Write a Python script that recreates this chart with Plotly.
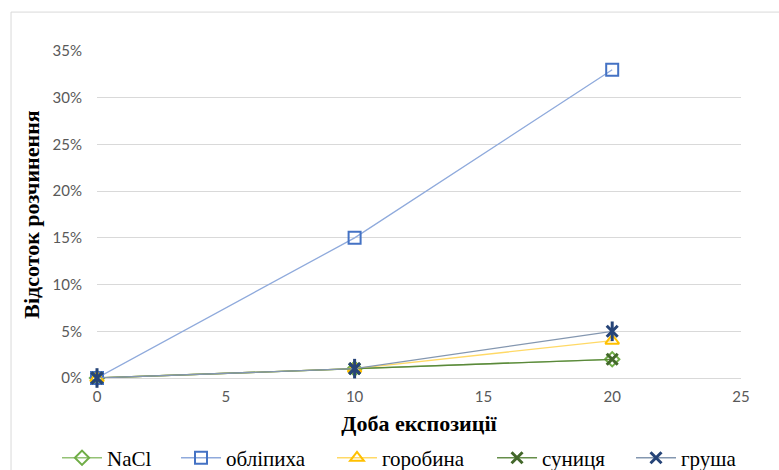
import plotly.graph_objects as go

# Exposure days and dissolution share (fraction) for each sample
days = [0, 10, 20]
series_names = ["NaCl", "обліпиха", "горобина", "суниця", "груша"]
nacl = [0.0, 0.01, 0.02]
oblipykha = [0.0, 0.15, 0.33]
horobyna = [0.0, 0.01, 0.04]
sunytsia = [0.0, 0.01, 0.02]
hrusha = [0.0, 0.01, 0.05]

y_ticks = [0, 0.05, 0.10, 0.15, 0.20, 0.25, 0.30, 0.35]
x_ticks = [0, 5, 10, 15, 20, 25]

styles = [
    # (marker colour, line colour, symbol, marker size, marker line width)
    ("#70AD47", "rgba(112,173,71,0.75)", "diamond-open", 11, 2),
    ("#4472C4", "rgba(143,170,220,1)", "square-open", 12, 2),
    ("#FFC000", "rgba(255,217,102,1)", "triangle-up-open", 12, 2),
    ("#43682B", "rgba(84,130,53,0.9)", "x-thin-open", 11, 3),
    ("#264478", "rgba(132,151,176,1)", "x-thin-open", 11, 3),
]

# one single-entry legend per series, laid out in a row below the axis
legend_x = [-0.0621, 0.1227, 0.3649, 0.6134, 0.8292]
legend_ids = ["legend", "legend2", "legend3", "legend4", "legend5"]

fig = go.Figure()
all_values = [nacl, oblipykha, horobyna, sunytsia, hrusha]
for name, vals, (mc, lc, sym, size, lw), lid in zip(
    series_names, all_values, styles, legend_ids
):
    fig.add_trace(
        go.Scatter(
            x=days,
            y=vals,
            name=name,
            legend=lid,
            mode="lines+markers",
            cliponaxis=False,
            line=dict(color=lc, width=1.3),
            marker=dict(symbol=sym, size=size, color=mc, line=dict(color=mc, width=lw)),
        )
    )

# vertical stroke completing the six-ray star marker of the last series
fig.add_trace(
    go.Scatter(
        x=days,
        y=hrusha,
        mode="markers",
        showlegend=False,
        hoverinfo="skip",
        cliponaxis=False,
        marker=dict(symbol="line-ns-open", size=14, color="#264478",
                    line=dict(color="#264478", width=3)),
    )
)

tick_font = dict(family="Lato, 'Open Sans', sans-serif", size=15, color="#595959")
title_font = dict(family="'Liberation Serif', 'Times New Roman', serif", size=22, color="#000000")
legend_font = dict(family="'Liberation Serif', 'Times New Roman', serif", size=21, color="#000000")

legends = {}
for lid, lx in zip(legend_ids, legend_x):
    legends[lid] = dict(
        orientation="h",
        x=lx,
        xanchor="left",
        y=-0.245,
        yanchor="middle",
        font=legend_font,
        itemwidth=40,
        bgcolor="rgba(0,0,0,0)",
    )

fig.update_layout(
    width=779,
    height=470,
    margin=dict(l=97, r=38, t=51, b=92, autoexpand=False),
    paper_bgcolor="white",
    plot_bgcolor="white",
    showlegend=True,
    xaxis=dict(
        range=[0, 25],
        tickvals=x_ticks,
        showgrid=False,
        zeroline=False,
        showline=False,
        tickfont=tick_font,
        ticklabelstandoff=8,
        title=dict(text="<b>Доба експозиції</b>", font=title_font, standoff=11),
    ),
    yaxis=dict(
        range=[0, 0.35],
        tickvals=y_ticks,
        tickformat=".0%",
        showgrid=True,
        gridcolor="#d9d9d9",
        gridwidth=1,
        zeroline=True,
        zerolinecolor="#d9d9d9",
        zerolinewidth=1,
        showline=False,
        tickfont=tick_font,
        ticklabelstandoff=14,
        title=dict(text="<b>Відсоток розчинення</b>", font=title_font, standoff=6),
    ),
    shapes=[
        dict(
            type="rect",
            xref="paper",
            yref="paper",
            x0=-0.1335,
            x1=1.2,
            y0=-0.5,
            y1=1.119,
            line=dict(color="#d9d9d9", width=1),
            fillcolor="rgba(0,0,0,0)",
            layer="below",
        )
    ],
    **legends,
)

fig.write_html("out.html")
